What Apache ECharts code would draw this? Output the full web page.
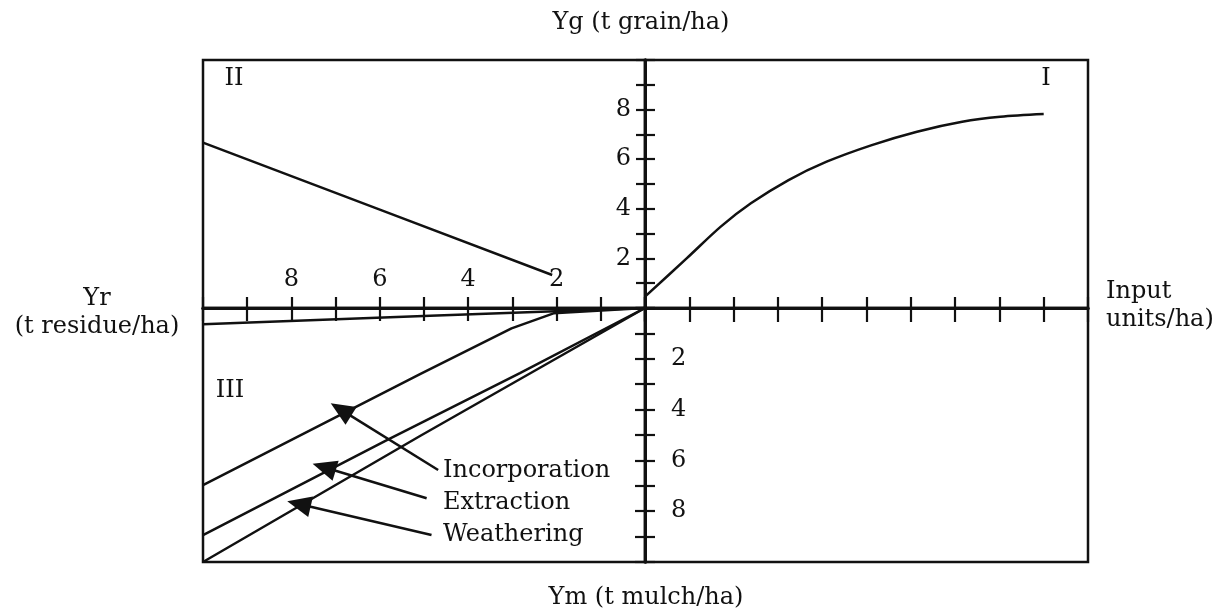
<!DOCTYPE html>
<html>
<head>
<meta charset="utf-8">
<script src="https://cdn.jsdelivr.net/npm/echarts@6/dist/echarts.min.js"></script>
<style>
html,body{margin:0;padding:0;background:#fff;}
#chart{width:1221px;height:611px;}
</style>
</head>
<body>
<div id="chart"></div>
<script>
// ---- Data ----
// Quadrant I: grain yield vs input
const inputUnits = [0, 0.94, 1.71, 2.39, 3.24, 4.1, 5.12, 6.14, 7.16, 8.02, 9.0];
const grainYield = [0.46, 2.0, 3.28, 4.22, 5.16, 5.9, 6.57, 7.11, 7.51, 7.71, 7.82];
// Quadrant II: residue vs grain
const residueYr = [10, 6, 2.1];
const residueYg = [6.67, 3.97, 1.33];
// Quadrant III: mulch vs residue
const incorpYr = [10, 5.09, 3.02, 2.07, 0];
const incorpYm = [6.97, 2.6, 0.8, 0.21, 0];
const extractYr = [10, 5.84, 2.83, 0];
const extractYm = [8.94, 5.2, 2.56, 0];
const weatherYr = [10, 5.09, 0];
const weatherYm = [10, 5.04, 0];
const baseYr = [10, 4.86, 0];
const baseYm = [0.64, 0.31, 0];
// Annotations (quadrant III, [Yr, Ym])
const annotLabels = ['Incorporation', 'Extraction', 'Weathering'];
const annotTextPos = [[4.57, 6.42], [4.57, 7.68], [4.57, 8.94]];
const arrowTail = [[4.68, 6.38], [4.94, 7.49], [4.83, 8.94]];
const arrowHead = [[6.88, 4.0], [7.26, 6.27], [7.83, 7.72]];
// Tick labels
const ygTickLabels = [2, 4, 6, 8];
const yrTickLabels = [2, 4, 6, 8];
const ymTickLabels = [2, 4, 6, 8];
const axisMin = 0, axisMax = 10, axisStep = 1;

const zip = (a, b) => a.map((v, i) => [v, b[i]]);
const FONT = 'DejaVu Serif';
const INK = '#111111';
const FS = 24;
const LW = 2.5;

const L = 203, C = 645, R = 1088, T = 60, M = 308, B = 562;

function gridOf(left, top, right, bottom) {
  return { left: left, top: top, width: right - left, height: bottom - top,
    show: true, borderColor: INK, borderWidth: 2.5, backgroundColor: 'transparent' };
}
function tick(len) {
  return { show: true, inside: true, length: len, lineStyle: { color: INK, width: 2.2 } };
}
function axisBase(extra) {
  return Object.assign({
    type: 'value', min: axisMin, max: axisMax, interval: axisStep,
    splitLine: { show: false },
    axisLine: { show: true, onZero: false, lineStyle: { color: INK, width: 3 } },
    axisTick: tick(11),
    axisLabel: { show: false }
  }, extra);
}
function labelFmt(list) {
  return function (v) { return list.indexOf(v) >= 0 ? String(v) : ''; };
}
const tickLabelStyle = { fontFamily: FONT, fontSize: FS, color: INK };
const txt = (s, x, y, align) => ({ type: 'text', x: x, y: y,
  style: { text: s, font: FS + 'px "' + FONT + '"', fill: INK, align: align || 'center', verticalAlign: 'middle' } });

const option = {
  animation: false,
  backgroundColor: '#fff',
  grid: [
    gridOf(C, T, R, M), // I
    gridOf(L, T, C, M), // II
    gridOf(L, M, C, B), // III
    gridOf(C, M, R, B)  // IV
  ],
  xAxis: [
    axisBase({ gridIndex: 0, position: 'bottom', axisTick: tick(11) }),
    axisBase({ gridIndex: 1, position: 'bottom', inverse: true, axisTick: tick(11),
      axisLabel: Object.assign({ show: true, inside: true, margin: 16, formatter: labelFmt(yrTickLabels) }, tickLabelStyle) }),
    axisBase({ gridIndex: 2, position: 'top', inverse: true, axisTick: tick(13) }),
    axisBase({ gridIndex: 3, position: 'top', axisTick: tick(14) })
  ],
  yAxis: [
    axisBase({ gridIndex: 0, position: 'left', axisTick: tick(10),
      axisLabel: Object.assign({ show: true, margin: 14, formatter: labelFmt(ygTickLabels) }, tickLabelStyle) }),
    axisBase({ gridIndex: 1, position: 'right', axisTick: tick(9) }),
    axisBase({ gridIndex: 2, position: 'right', inverse: true, axisTick: tick(10) }),
    axisBase({ gridIndex: 3, position: 'left', inverse: true, axisTick: tick(10),
      axisLabel: Object.assign({ show: true, inside: true, margin: 26, formatter: labelFmt(ymTickLabels) }, tickLabelStyle) })
  ],
  series: [
    { type: 'line', xAxisIndex: 0, yAxisIndex: 0, smooth: 0.3, showSymbol: false,
      data: zip(inputUnits, grainYield), lineStyle: { color: INK, width: LW } },
    { type: 'line', xAxisIndex: 1, yAxisIndex: 1, showSymbol: false,
      data: zip(residueYr, residueYg), lineStyle: { color: INK, width: LW } },
    { type: 'line', xAxisIndex: 2, yAxisIndex: 2, showSymbol: false,
      data: zip(baseYr, baseYm), lineStyle: { color: INK, width: LW } },
    { type: 'line', name: 'Incorporation', xAxisIndex: 2, yAxisIndex: 2, showSymbol: false,
      data: zip(incorpYr, incorpYm), lineStyle: { color: INK, width: LW } },
    { type: 'line', name: 'Extraction', xAxisIndex: 2, yAxisIndex: 2, showSymbol: false,
      data: zip(extractYr, extractYm), lineStyle: { color: INK, width: LW } },
    { type: 'line', name: 'Weathering', xAxisIndex: 2, yAxisIndex: 2, showSymbol: false,
      data: zip(weatherYr, weatherYm), lineStyle: { color: INK, width: LW },
      markLine: {
        silent: true, animation: false,
        symbol: ['none', 'triangle'], symbolSize: [21, 24],
        label: { show: false },
        lineStyle: { color: INK, width: LW, type: 'solid' },
        itemStyle: { color: INK },
        emphasis: { disabled: true },
        data: arrowTail.map((t, i) => [{ coord: t }, { coord: arrowHead[i] }])
      } },
    { type: 'scatter', xAxisIndex: 2, yAxisIndex: 2, symbolSize: 0, silent: true,
      itemStyle: { opacity: 1, color: INK },
      data: annotLabels.map((n, i) => ({ name: n, value: annotTextPos[i] })),
      label: { show: true, position: 'right', distance: 0, formatter: '{b}', opacity: 1,
        fontFamily: FONT, fontSize: FS, color: INK } }
  ],
  graphic: [
    txt('Yg (t grain/ha)', 641, 23),
    txt('Ym (t mulch/ha)', 646, 598),
    txt('Yr', 97, 299),
    txt('(t residue/ha)', 97, 327),
    txt('Input', 1106, 292, 'left'),
    txt('units/ha)', 1106, 320, 'left'),
    txt('II', 234, 79),
    txt('I', 1046, 79),
    txt('III', 230, 391)
  ]
};

const chart = echarts.init(document.getElementById('chart'), null, { renderer: 'canvas' });
chart.setOption(option);
</script>
</body>
</html>
